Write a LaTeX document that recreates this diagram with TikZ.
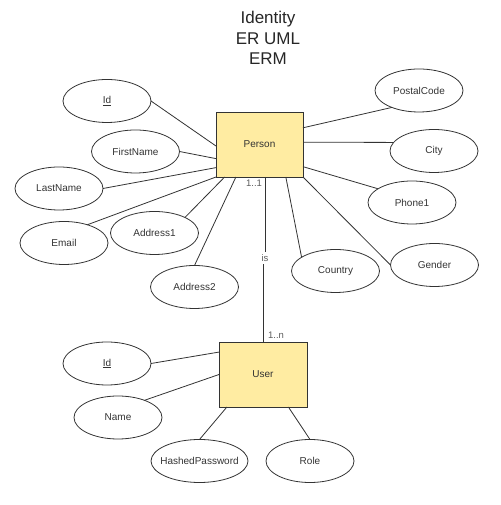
\documentclass[tikz,border=0pt]{standalone}
\usepackage{fontspec}
\setmainfont{Liberation Sans}
\usetikzlibrary{shapes}

\definecolor{entityfill}{RGB}{255,236,162}
\definecolor{linegray}{RGB}{51,51,51}

\begin{document}
\begin{tikzpicture}[x=1pt,y=1pt,
  entity/.style={draw=linegray,fill=entityfill,line width=0.8pt,
    minimum width=87pt,minimum height=65pt,inner sep=0pt,outer sep=0pt,
    font=\fontsize{10}{12}\selectfont,text=linegray},
  attr/.style={draw=linegray,ellipse,line width=0.8pt,
    minimum width=88pt,minimum height=43pt,inner sep=0pt,outer sep=0pt,
    font=\fontsize{10}{12}\selectfont,text=linegray},
  card/.style={font=\fontsize{9.5}{11}\selectfont,text=linegray!80,inner sep=1pt},
  link/.style={draw=linegray,line width=0.8pt}]
  \useasboundingbox (0,0) rectangle (500,505);

  \node[align=center,font=\fontsize{17}{20.5}\selectfont,text=black!85]
    (title) at (268,467) {Identity\\ER UML\\ERM};

  %% Entities
  \node[entity] (person) at (259.5,360.5) {Person};
  \node[entity,minimum width=88pt] (user) at (263,130.5) {User};

  %% Person attributes
  \node[attr] (pid) at (107,404) {\underline{Id}};
  \node[attr] (firstname) at (135.5,353.5) {FirstName};
  \node[attr] (lastname) at (59,316.5) {LastName};
  \node[attr] (email) at (64,262) {Email};
  \node[attr] (address1) at (154.5,272) {Address1};
  \node[attr] (address2) at (194.5,218) {Address2};
  \node[attr] (country) at (335.5,234) {Country};
  \node[attr] (gender) at (434.5,240) {Gender};
  \node[attr] (phone1) at (412,302.5) {Phone1};
  \node[attr] (city) at (434,354) {City};
  \node[attr] (postalcode) at (419,414.5) {PostalCode};

  %% User attributes
  \node[attr] (uid) at (107,141.5) {\underline{Id}};
  \node[attr] (name) at (118,87.5) {Name};
  \node[attr,minimum width=97pt] (hashedpw) at (199.5,44) {\makebox[0pt]{HashedPassword}};
  \node[attr] (role) at (310,44) {Role};

  %% Person links
  \draw[link] (pid.east) -- (person.182);
  \draw[link] (firstname.east) -- (person.198);
  \draw[link] (lastname.east) -- (person.208);
  \draw[link] (email.38) -- (person.south west);
  \draw[link] (address1.27) -- (person.223);
  \draw[link] (address2.north) -- (person.234);
  \draw[link] (country.158) -- (person.309);
  \draw[link] (gender.west) -- (person.south east);
  \draw[link] (phone1.158) -- (person.333);
  \draw[link] (city.168) -- (person.3);
  \draw[link] (postalcode.212) -- (person.21.5);

  %% Relation
  \node[card,inner sep=2.5pt] (is) at (265,247) {is};
  \node[card] (one) at (254,322) {1..1};
  \node[card] (many) at (276,170) {1..n};
  \draw[link] (person.280) -- (person.280 |- is.north);
  \draw[link] (is.south -| user.north) -- (user.north);

  %% User links
  \draw[link] (uid.east) -- (user.153);
  \draw[link] (name.33) -- (user.west);
  \draw[link] (hashedpw.north) -- (user.222);
  \draw[link] (role.north) -- (user.308);

\end{tikzpicture}
\end{document}
